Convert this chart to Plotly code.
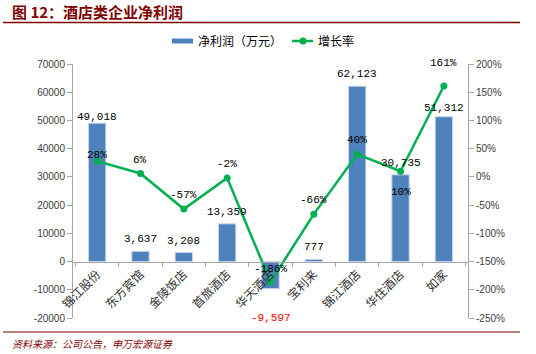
import plotly.graph_objects as go

categories = ["锦江股份", "东方宾馆", "金陵饭店", "首旅酒店", "华天酒店", "宝利来", "锦江酒店", "华住酒店", "如家"]
net_profit = [49018, 3637, 3208, 13359, -9597, 777, 62123, 30735, 51312]
growth = [0.28, 0.06, -0.57, -0.02, -1.86, -0.66, 0.40, 0.10, 1.61]
left_ticks = list(range(-20000, 70001, 10000))
right_ticks = [v / 100 for v in range(-250, 201, 50)]

# label pixel offsets (style only)
bar_label_shift = [6, 12, 12, 12, -29, 12, 12, 12, 9]
line_label_shift = [6, 14, 14, 14, 13, 14, 14, -21, 23]

W, H = 536, 354
L, R, T, B = 73, 68, 64, 36
pw, ph = W - L - R, H - T - B

def px(x):
    return (x - L) / pw

def py(y):
    return (H - B - y) / ph

DARK_RED = "#7F0000"
BLUE = "#4F81BD"
GREEN = "#00B050"
AXIS = "#A6A6A6"
TXT = "#404040"

fig = go.Figure()
fig.add_trace(go.Bar(
    x=categories, y=net_profit, name="净利润（万元）",
    marker=dict(color=BLUE, line=dict(color="#C6D5EA", width=1)),
    width=0.4, showlegend=False,
))
fig.add_trace(go.Scatter(
    x=categories, y=growth, name="增长率", yaxis="y2",
    mode="lines+markers",
    line=dict(color=GREEN, width=2.5),
    marker=dict(color=GREEN, size=7),
    showlegend=False, cliponaxis=False,
))

annotations = []
for c, v, s in zip(categories, net_profit, bar_label_shift):
    base_shift = 6 if v >= 0 else -6
    annotations.append(dict(
        x=c, y=v, xref="x", yref="y", text=f"{v:,}", showarrow=False,
        xanchor="center", yanchor="middle", yshift=s,
        font=dict(family="Liberation Mono", size=11, color="#FF0000" if v < 0 else "#000000"),
    ))
for c, g, s in zip(categories, growth, line_label_shift):
    annotations.append(dict(
        x=c, y=g, xref="x", yref="y2", text=f"{round(g*100):d}%", showarrow=False,
        xanchor="center", yanchor="middle", yshift=s,
        font=dict(family="Liberation Mono", size=11, color="#000000"),
    ))

annotations += [
    dict(text="<b>图 12：酒店类企业净利润</b>", xref="paper", yref="paper", x=px(10), y=py(12),
         xanchor="left", yanchor="middle", showarrow=False,
         font=dict(family="Noto Sans CJK SC", size=15, color=DARK_RED)),
    dict(text="<i>资料来源：公司公告，申万宏源证券</i>", xref="paper", yref="paper", x=px(10), y=py(343),
         xanchor="left", yanchor="middle", showarrow=False,
         font=dict(family="Noto Sans CJK SC", size=10, color=DARK_RED)),
    dict(text="净利润（万元）", xref="paper", yref="paper", x=px(196), y=py(41),
         xanchor="left", yanchor="middle", showarrow=False,
         font=dict(family="Noto Sans CJK SC", size=12, color="#000000")),
    dict(text="增长率", xref="paper", yref="paper", x=px(316), y=py(41),
         xanchor="left", yanchor="middle", showarrow=False,
         font=dict(family="Noto Sans CJK SC", size=12, color="#000000")),
]

shapes = [
    dict(type="line", xref="paper", yref="paper", x0=px(3), x1=px(520), y0=py(22.5), y1=py(22.5),
         line=dict(color=DARK_RED, width=1.5)),
    dict(type="line", xref="paper", yref="paper", x0=px(3), x1=px(520), y0=py(332), y1=py(332),
         line=dict(color=DARK_RED, width=1.2)),
    # legend symbols
    dict(type="rect", xref="paper", yref="paper", x0=px(172), x1=px(193), y0=py(43.5), y1=py(38.5),
         fillcolor=BLUE, line=dict(width=0)),
    dict(type="line", xref="paper", yref="paper", x0=px(292), x1=px(313), y0=py(41), y1=py(41),
         line=dict(color=GREEN, width=2.5)),
    dict(type="circle", xref="paper", yref="paper", x0=px(299.5), x1=px(306.5), y0=py(44.5), y1=py(37.5),
         fillcolor=GREEN, line=dict(width=0)),
]

fig.update_layout(
    width=W, height=H,
    margin=dict(l=L, r=R, t=T, b=B, pad=0),
    paper_bgcolor="white", plot_bgcolor="white",
    font=dict(family="Liberation Sans", size=10, color=TXT),
    showlegend=False,
    xaxis=dict(
        anchor="free", position=2/9, showline=True, linecolor=AXIS, linewidth=1,
        ticks="outside", tickson="boundaries", ticklen=4, tickcolor=AXIS,
        tickangle=-45, tickfont=dict(family="Noto Sans CJK SC", size=12, color="#303030"),
        showgrid=False, zeroline=False,
    ),
    yaxis=dict(
        range=[-20000, 70000], tickvals=left_ticks, ticktext=[str(v) for v in left_ticks],
        showline=True, linecolor=AXIS, linewidth=1, ticks="outside", ticklen=5, tickcolor=AXIS,
        showgrid=False, zeroline=False, tickfont=dict(size=10, color=TXT),
    ),
    yaxis2=dict(
        range=[-2.5, 2.0], tickvals=right_ticks, ticktext=[f"{round(v*100)}%" for v in right_ticks],
        overlaying="y", side="right", showline=True, linecolor=AXIS, linewidth=1,
        ticks="outside", ticklen=5, tickcolor=AXIS, showgrid=False, zeroline=False,
        tickfont=dict(size=10, color=TXT),
    ),
    shapes=shapes,
    annotations=annotations,
)

fig.write_html("out.html")
